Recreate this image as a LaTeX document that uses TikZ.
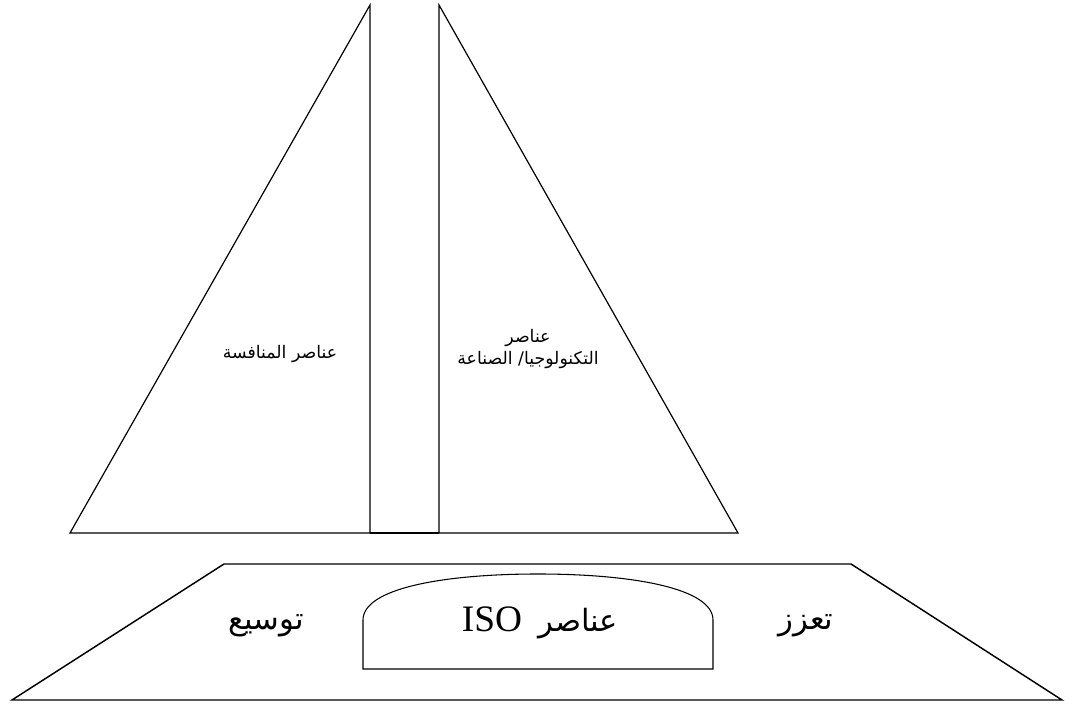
\documentclass[tikz,border=0pt]{standalone}
\usepackage{fontspec}
\setmainfont{Liberation Serif}
\newfontfamily\arabicfont[Script=Arabic]{DejaVu Sans}
\newfontfamily\isofont{Liberation Serif}
\TeXXeTstate=1
\begin{document}
\begin{tikzpicture}[x=0.75pt,y=-0.75pt,
  shapeline/.style={draw=black,line width=0.9pt,line join=miter},
  toplabel/.style={inner sep=0pt,align=center,font=\arabicfont\fontsize{13}{16.5}\selectfont},
  botlabel/.style={inner sep=0pt,font=\arabicfont\fontsize{23}{26}\selectfont}]
\useasboundingbox (0,0) rectangle (1072,705);
% triangles
\coordinate (la) at (370,5);
\coordinate (lb) at (70,533);
\coordinate (lc) at (370,533);
\coordinate (ra) at (439,5);
\coordinate (rb) at (439,533);
\coordinate (rc) at (738,533);
\draw[shapeline] (la) -- (lb) -- (lc) -- cycle;
\draw[shapeline] (ra) -- (rb) -- (rc) -- cycle;
\draw[shapeline] (lc) -- (rb);
% trapezoid
\coordinate (t1) at (224,564);
\coordinate (t2) at (851,564);
\coordinate (t3) at (1062,700);
\coordinate (t4) at (12,700);
\draw[shapeline,line width=1.1pt] (t1) -- (t2) -- (t3) -- (t4) -- cycle;
% ISO box
\coordinate (b1) at (363,669);
\coordinate (b2) at (713,669);
\draw[shapeline,line width=0.8pt] (b1) -- (363,620) .. controls (363,588) and (445,574) .. (538,574)
  .. controls (631,574) and (713,588) .. (713,620) -- (b2) -- cycle;
% labels
\node[toplabel] (comp) at (280,354) {\beginR عناصر المنافسة\endR};
\node[toplabel] (tech) at (528,349) {\beginR عناصر\endR\\ \beginR التكنولوجيا/ الصناعة\endR};
\node[botlabel] (iso) at (540,623) {{\isofont\fontsize{28}{32}\selectfont ISO}\hspace{12pt}\beginR عناصر\endR};
\node[botlabel] (exp) at (266,626) {\beginR توسيع\endR};
\node[botlabel] (enh) at (806,626) {\beginR تعزز\endR};
\end{tikzpicture}
\end{document}
